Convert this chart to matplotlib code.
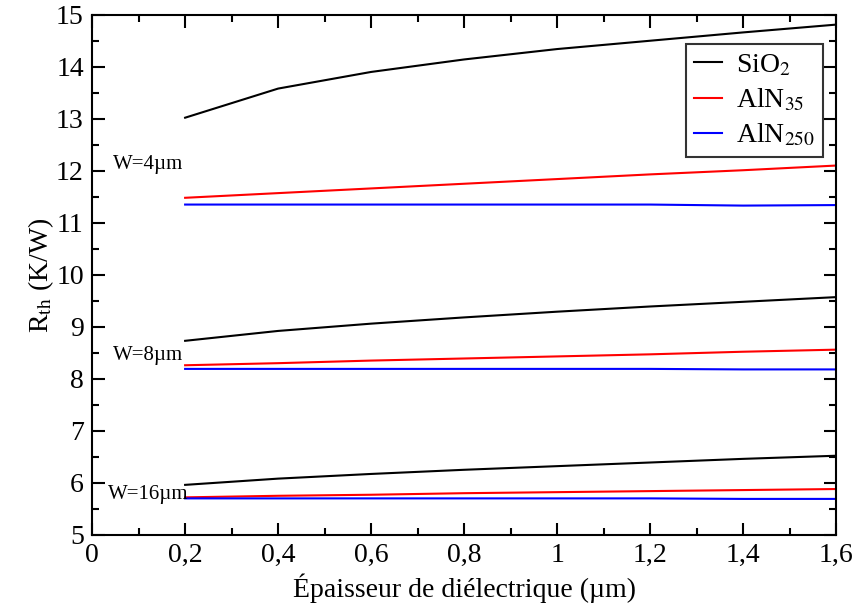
import matplotlib
matplotlib.use("Agg")
import matplotlib.pyplot as plt
from matplotlib.ticker import MultipleLocator, FuncFormatter

plt.rcParams["font.family"] = ["Liberation Serif", "DejaVu Serif"]
plt.rcParams["mathtext.fontset"] = "stix"
plt.rcParams["mathtext.default"] = "rm"

thickness = [0.2, 0.4, 0.6, 0.8, 1.0, 1.2, 1.4, 1.6]

sio2_w4 = [13.02, 13.58, 13.90, 14.14, 14.34, 14.50, 14.66, 14.81]
aln35_w4 = [11.48, 11.57, 11.66, 11.75, 11.84, 11.93, 12.01, 12.10]
aln250_w4 = [11.35, 11.35, 11.35, 11.35, 11.35, 11.35, 11.33, 11.34]

sio2_w8 = [8.73, 8.92, 9.06, 9.18, 9.29, 9.39, 9.48, 9.57]
aln35_w8 = [8.26, 8.30, 8.35, 8.39, 8.43, 8.47, 8.52, 8.56]
aln250_w8 = [8.19, 8.19, 8.19, 8.19, 8.19, 8.19, 8.18, 8.18]

sio2_w16 = [5.96, 6.08, 6.17, 6.25, 6.32, 6.39, 6.46, 6.52]
aln35_w16 = [5.72, 5.75, 5.77, 5.80, 5.82, 5.84, 5.86, 5.88]
aln250_w16 = [5.70, 5.70, 5.70, 5.70, 5.70, 5.70, 5.69, 5.69]

width_labels = ["W=4µm", "W=8µm", "W=16µm"]
width_label_y = [12.12, 8.44, 5.77]

fig = plt.figure(figsize=(8.61, 6.14), dpi=100)
ax = fig.add_axes([0.107, 0.129, 0.864, 0.847])

lw = 1.5
ax.plot(thickness, sio2_w4, color="black", lw=lw, label="SiO$_2$")
ax.plot(thickness, aln35_w4, color="red", lw=lw, label="AlN$_{35}$")
ax.plot(thickness, aln250_w4, color="blue", lw=lw, label="AlN$_{250}$")
for s, a35, a250 in [(sio2_w8, aln35_w8, aln250_w8), (sio2_w16, aln35_w16, aln250_w16)]:
    ax.plot(thickness, s, color="black", lw=lw)
    ax.plot(thickness, a35, color="red", lw=lw)
    ax.plot(thickness, a250, color="blue", lw=lw)

for txt, yv in zip(width_labels, width_label_y):
    ax.text(0.12, yv, txt, fontsize=15, ha="center", va="center")

ax.set_xlim(0, 1.6)
ax.set_ylim(5, 15)
ax.xaxis.set_major_locator(MultipleLocator(0.2))
ax.xaxis.set_minor_locator(MultipleLocator(0.1))
ax.yaxis.set_major_locator(MultipleLocator(1))
ax.yaxis.set_minor_locator(MultipleLocator(0.5))
ax.xaxis.set_major_formatter(FuncFormatter(lambda v, p: ("%g" % round(v, 2)).replace(".", ",")))

ax.tick_params(which="both", direction="in", top=True, right=True, width=1.5)
ax.tick_params(which="major", length=9, labelsize=20, pad=6)
ax.tick_params(which="minor", length=5)
for sp in ax.spines.values():
    sp.set_linewidth(1.5)

ax.set_xlabel("Épaisseur de diélectrique (µm)", fontsize=20, labelpad=4)
ax.set_ylabel("R$_{th}$ (K/W)", fontsize=20, labelpad=0)

leg = ax.legend(loc="upper right", bbox_to_anchor=(0.983, 0.944), borderaxespad=0,
                fontsize=20, frameon=True, fancybox=False, edgecolor="black",
                handlelength=1.0, handletextpad=0.5, labelspacing=0.3,
                borderpad=0.3)
leg.get_frame().set_linewidth(1.5)

fig.savefig("out.png", dpi=100)
